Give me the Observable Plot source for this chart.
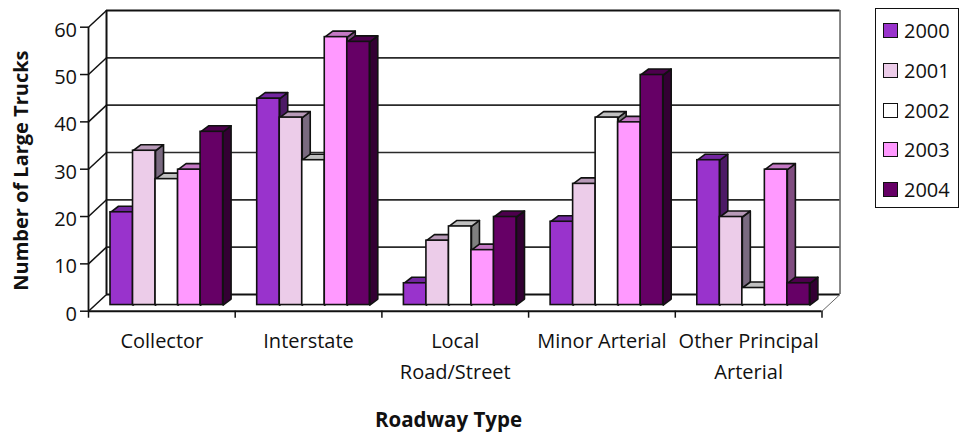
<!DOCTYPE html>
<html>
<head>
<meta charset="utf-8">
<script src="https://cdn.jsdelivr.net/npm/d3@7"></script>
<script src="https://cdn.jsdelivr.net/npm/@observablehq/plot@0.6"></script>
<style>
  html, body { margin: 0; padding: 0; background: #fff; }
  #chart { position: relative; width: 966px; height: 432px; overflow: hidden; }
  #chart svg { display: block; }
  .legend { position: absolute; left: 875px; top: 8px; width: 84px; height: 200px; box-sizing: border-box;
    border: 1.4px solid #111; background: #fff; font: 20px "Open Sans", sans-serif; color: #111; }
  .legend div { position: absolute; left: 7px; display: flex; align-items: center; height: 24px; }
  .legend i { display: block; width: 13px; height: 13px; border: 1.8px solid #111; margin-right: 6px; }
</style>
</head>
<body>
<div id="chart"></div>
<script>
const categories = ["Collector", "Interstate", "Local\nRoad/Street", "Minor Arterial", "Other Principal\nArterial"];
const years = ["2000", "2001", "2002", "2003", "2004"];
const trucks2000 = [20, 44, 5, 18, 31];
const trucks2001 = [33, 40, 14, 26, 19];
const trucks2002 = [27, 31, 17, 40, 4];
const trucks2003 = [29, 57, 12, 39, 29];
const trucks2004 = [37, 56, 19, 49, 5];
const yTicks = [0, 10, 20, 30, 40, 50, 60];

// face colours: front, side (shaded), top (half shaded)
const frontColors = ["#9933cc", "#eccce9", "#ffffff", "#ff99ff", "#660066"];
const sideColors = ["#4d1a66", "#7a6a80", "#808080", "#804d80", "#330033"];
const topColors = ["#7326a0", "#b89ab8", "#c0c0c0", "#c478c4", "#4d004d"];
const seriesValues = [trucks2000, trucks2001, trucks2002, trucks2003, trucks2004];

// oblique projection, expressed in scale units
const wallDx = 0.1228, wallDy = 3.53;
const barDx = 0.0545, barDy = 1.27;
const barLift = 0.9, barFloor = 1.3;
const groupStart = 0.15, barWidth = 0.1535;
const ink = "#111", sw = 1.6;

const categoryIndex = d3.range(categories.length);

function barMarks(s) {
  const values = seriesValues[s];
  const bars = values.map((v, c) => {
    const x1 = c + groupStart + s * barWidth, x2 = x1 + barWidth;
    return {c, x1, x2, y1: barFloor, y2: v + barLift};
  });
  const top = bars.flatMap(b => [
    {c: b.c, x: b.x1, y: b.y2},
    {c: b.c, x: b.x2, y: b.y2},
    {c: b.c, x: b.x2 + barDx, y: b.y2 + barDy},
    {c: b.c, x: b.x1 + barDx, y: b.y2 + barDy},
    {c: b.c, x: b.x1, y: b.y2}
  ]);
  const side = bars.flatMap(b => [
    {c: b.c, x: b.x2, y: b.y1},
    {c: b.c, x: b.x2 + barDx, y: b.y1 + barDy},
    {c: b.c, x: b.x2 + barDx, y: b.y2 + barDy},
    {c: b.c, x: b.x2, y: b.y2},
    {c: b.c, x: b.x2, y: b.y1}
  ]);
  return [
    Plot.line(side, {x: "x", y: "y", z: "c", fill: sideColors[s], stroke: ink, strokeWidth: sw}),
    Plot.line(top, {x: "x", y: "y", z: "c", fill: topColors[s], stroke: ink, strokeWidth: sw}),
    Plot.rect(bars, {x1: "x1", x2: "x2", y1: "y1", y2: "y2", fill: frontColors[s], stroke: ink, strokeWidth: sw})
  ];
}

const edge = categories.length;

const chart = Plot.plot({
  width: 966,
  height: 432,
  marginTop: 0, marginBottom: 0, marginLeft: 0, marginRight: 0,
  style: {background: "#fff", fontFamily: '"Open Sans", sans-serif', overflow: "visible"},
  x: {type: "linear", domain: [0, edge], range: [88, 821.5]},
  y: {type: "linear", domain: [0, 60], range: [310.7, 26.7]},
  marks: [
    // back wall gridlines and frame
    Plot.ruleY(yTicks.slice(1, -1), {y: d => d + wallDy, x1: wallDx, x2: edge + wallDx, stroke: "#2a2a2a", strokeWidth: 1.7}),
    Plot.ruleY([60 + wallDy], {x1: wallDx, x2: edge + wallDx, stroke: ink, strokeWidth: 1.8}),
    Plot.ruleY([wallDy], {x1: wallDx, x2: edge + wallDx, stroke: ink, strokeWidth: 1.8}),
    Plot.ruleX([wallDx], {y1: wallDy, y2: 60 + wallDy, stroke: ink, strokeWidth: 2}),
    Plot.ruleX([edge + wallDx], {y1: wallDy, y2: 60 + wallDy, stroke: "#444", strokeWidth: 1.3}),
    // slanted side wall and floor edges
    Plot.link(yTicks, {x1: 0, y1: d => d, x2: wallDx, y2: d => d + wallDy, stroke: ink, strokeWidth: 1.5}),
    Plot.link([edge], {x1: d => d, y1: 0, x2: d => d + wallDx, y2: wallDy, stroke: "#666", strokeWidth: 1}),
    // axes
    Plot.ruleX([0], {y1: 0, y2: 60, stroke: ink, strokeWidth: 1.8}),
    Plot.ruleY([0], {x1: 0, x2: edge, stroke: ink, strokeWidth: 2}),
    Plot.axisY(yTicks, {anchor: "left", x: 0, tickSize: 8, tickPadding: 4.5, label: null, text: null, stroke: ink, strokeWidth: 1.5}),
    Plot.axisX(d3.range(edge + 1), {anchor: "bottom", y: 0, tickSize: 7, tickFormat: null, text: null, label: null, stroke: ink, strokeWidth: 1.5}),
    // value labels sit slightly below their ticks
    Plot.text(yTicks, {x: 0, y: d => d, text: d => String(d), dx: -11.5, dy: 3, fontSize: 20, fill: ink, textAnchor: "end"}),
    // category names sit below the ticks
    Plot.text(categoryIndex, {x: d => d + 0.5, y: -3.2, text: d => categories[d], fontSize: 20, lineAnchor: "top", lineHeight: 1.55, fill: ink, textAnchor: "middle"}),
    // bars, painted left to right so each one overlaps its neighbour's side face
    ...years.flatMap((_, s) => barMarks(s)),
    // axis titles
    Plot.text(["Roadway Type"], {x: 2.454, y: -23, text: d => d, fontSize: 20.5, fontWeight: 700, fill: ink, textAnchor: "middle"}),
    Plot.text(["Number of Large Trucks"], {x: -0.458, y: 29.7, text: d => d, fontSize: 20, fontWeight: 700, fill: ink, rotate: -90, textAnchor: "middle"})
  ]
});

const root = document.getElementById("chart");
root.append(chart);

// series key to the right of the plot
const legend = document.createElement("div");
legend.className = "legend";
const rowTops = [9, 49, 89, 128, 168];
years.forEach((year, s) => {
  const row = document.createElement("div");
  row.style.top = rowTops[s] + "px";
  const swatch = document.createElement("i");
  swatch.style.background = frontColors[s];
  row.append(swatch, document.createTextNode(year));
  legend.append(row);
});
root.append(legend);
</script>
</body>
</html>
